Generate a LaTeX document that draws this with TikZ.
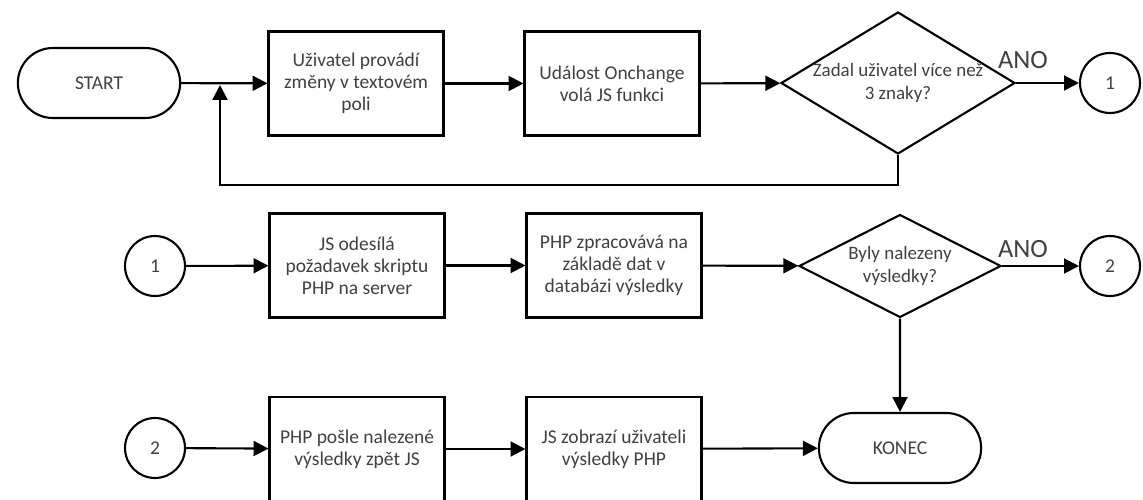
\documentclass[tikz,border=0pt]{standalone}
\usepackage{fontspec}
\setmainfont{Carlito}
\usepackage{tikz}
\usetikzlibrary{arrows.meta}
\usetikzlibrary{shapes.geometric}
\usetikzlibrary{shapes.misc}
\definecolor{txt}{HTML}{404040}
\tikzset{term/.style = {draw, rounded rectangle, minimum width = 3.48cm, minimum height = 1.4cm}}
\tikzset{proc/.style = {draw, rectangle, align = center, minimum width = 3.5cm, minimum height = 2.08cm}}
\tikzset{dec/.style = {draw, diamond, inner sep = 0}}
\tikzset{ask/.style = {align = center, font = \fontsize{10.8}{13}\selectfont}}
\tikzset{conn/.style = {draw, circle, minimum size = 1.2cm}}
\tikzset{flow/.style = {-{Triangle[length = 8.5pt, width = 8.5pt]}}}
\tikzset{yes/.style = {font = \fontsize{15}{18}\selectfont}}

\begin{document}
\begin{tikzpicture}[x = 0.02cm, y = -0.02cm, line width = 1.2pt, text = txt,
    font = \fontsize{11.1}{12.6}\selectfont]
    \useasboundingbox (0, 0) rectangle (1143, 500);
    % first row
    \node [term] (start) at (99, 83) {START};
    \node [proc] (p1) at (356, 83.5) {Uživatel provádí\\změny v textovém\\poli};
    \node [proc] (p2) at (612, 83.5) {Událost Onchange\\volá JS funkci};
    \node [dec, minimum width = 4.68cm, minimum height = 2.84cm,
      label = {[ask]center:{Zadal uživatel více než\\3 znaky?}}] (d1) at (898, 83) {};
    \node [conn] (c1a) at (1110, 83) {1};
    \node [yes] (ano1) at (1023, 60) {ANO};
    \coordinate (fb) at (220, 85);
    \draw [flow] (start) -- (p1);
    \draw [flow] (p1) -- (p2);
    \draw [flow] (p2) -- (d1);
    \draw [flow] (d1) -- (c1a);
    \draw [flow] (d1.south) -- (898, 185) -| (fb);
    % second row
    \node [conn] (c1b) at (155, 266) {1};
    \node [proc] (p3) at (357, 265.5) {JS odesílá\\požadavek skriptu\\PHP na server};
    \node [proc] (p4) at (614, 265.5) {PHP zpracovává na\\základě dat v\\databázi výsledky};
    \node [dec, minimum width = 4.04cm, minimum height = 2.06cm,
      label = {[ask]center:{Byly nalezeny\\výsledky?}}] (d2) at (900, 266) {};
    \node [conn] (c2a) at (1110, 266) {2};
    \node [yes] (ano2) at (1023, 249) {ANO};
    \draw [flow] (c1b) -- (p3);
    \draw [flow] (p3) -- (p4);
    \draw [flow] (p4) -- (d2);
    \draw [flow] (d2) -- (c2a);
    % third row
    \node [conn] (c2b) at (155, 448) {2};
    \node [proc] (p5) at (357, 449) {PHP pošle nalezené\\výsledky zpět JS};
    \node [proc] (p6) at (614, 449) {JS zobrazí uživateli\\výsledky PHP};
    \node [term] (konec) at (900, 448) {KONEC};
    \draw [flow] (c2b) -- (p5);
    \draw [flow] (p5) -- (p6);
    \draw [flow] (p6) -- (konec);
    \draw [flow] (d2) -- (konec);
  \end{tikzpicture}
\end{document}
